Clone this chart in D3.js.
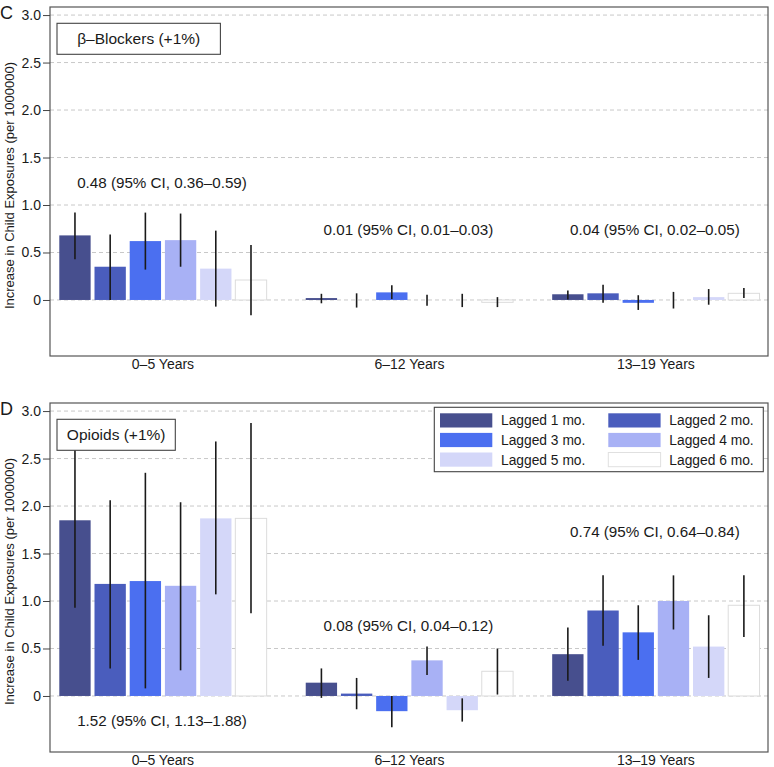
<!DOCTYPE html>
<html>
<head>
<meta charset="utf-8">
<script src="https://cdn.jsdelivr.net/npm/d3@7"></script>
<style>
  body { margin: 0; background: #fff; }
  svg { display: block; }
  text { font-family: "Liberation Sans", Arial, Helvetica, sans-serif; fill: #1a1a1a; }
</style>
</head>
<body>
<svg id="chart" width="774" height="767"></svg>
<script>
// ---------- DATA ----------
const ageGroups = ["0\u20135 Years", "6\u201312 Years", "13\u201319 Years"];
const lagLabels = ["Lagged 1 mo.", "Lagged 2 mo.", "Lagged 3 mo.", "Lagged 4 mo.", "Lagged 5 mo.", "Lagged 6 mo."];
const lagColors = ["#474f8e", "#4a5dbd", "#4b6ff0", "#a8b1f5", "#d4d7f9", "#ffffff"];
const yTicks = [0, 0.5, 1.0, 1.5, 2.0, 2.5, 3.0];

// Panel C: beta-blockers
const bbValues = [
  [0.68, 0.35, 0.62, 0.63, 0.33, 0.21],
  [0.02, 0.00, 0.08, 0.00, 0.00, -0.025],
  [0.06, 0.07, -0.03, 0.00, 0.03, 0.07]
];
const bbLower = [
  [0.43, 0.00, 0.32, 0.35, -0.07, -0.16],
  [-0.035, -0.08, 0.01, -0.06, -0.075, -0.075],
  [0.005, -0.03, -0.105, -0.09, -0.05, 0.02]
];
const bbUpper = [
  [0.92, 0.69, 0.92, 0.91, 0.73, 0.58],
  [0.065, 0.07, 0.155, 0.055, 0.065, 0.03],
  [0.10, 0.16, 0.05, 0.085, 0.115, 0.125]
];
const bbAnnotations = ["0.48 (95% CI, 0.36\u20130.59)", "0.01 (95% CI, 0.01\u20130.03)", "0.04 (95% CI, 0.02\u20130.05)"];

// Panel D: opioids
const opValues = [
  [1.85, 1.18, 1.21, 1.16, 1.87, 1.87],
  [0.14, 0.025, -0.16, 0.375, -0.15, 0.26],
  [0.44, 0.90, 0.67, 1.00, 0.52, 0.955]
];
const opLower = [
  [0.93, 0.29, 0.08, 0.27, 1.07, 0.87],
  [-0.02, -0.14, -0.33, 0.22, -0.27, 0.015],
  [0.16, 0.53, 0.38, 0.70, 0.19, 0.62]
];
const opUpper = [
  [2.78, 2.06, 2.35, 2.04, 2.68, 2.875],
  [0.29, 0.19, 0.00, 0.52, -0.025, 0.50],
  [0.72, 1.27, 0.955, 1.27, 0.85, 1.27]
];
const opAnnotations = ["1.52 (95% CI, 1.13\u20131.88)", "0.08 (95% CI, 0.04\u20130.12)", "0.74 (95% CI, 0.64\u20130.84)"];

// ---------- LAYOUT ----------
const svg = d3.select("#chart");
const plotLeft = 50, plotRight = 768;
const barsPerGroup = lagLabels.length;
const slotsPerGroup = barsPerGroup + 1;
const barFrac = 0.89;
const x = d3.scaleLinear().domain([-0.264, 20.13]).range([plotLeft, plotRight]);
const groupCenter = g => x(g * slotsPerGroup + (barsPerGroup - 1 + barFrac) / 2);

const panels = [
  { letter: "C", top: 7, bottom: 356, title: "\u03b2\u2013Blockers (+1%)", boxW: 163.4,
    values: bbValues, lower: bbLower, upper: bbUpper, annotations: bbAnnotations,
    annotY: [1.235, 0.737, 0.737], legend: false },
  { letter: "D", top: 403, bottom: 752, title: "Opioids (+1%)", boxW: 118.3,
    values: opValues, lower: opLower, upper: opUpper, annotations: opAnnotations,
    annotY: [-0.256, 0.743, 1.735], legend: true }
];

panels.forEach(p => {
  const g = svg.append("g");
  const y = d3.scaleLinear().domain([-0.59, 3.085]).range([p.bottom, p.top]);

  // grid
  g.append("g").selectAll("line").data(yTicks).join("line")
    .attr("x1", plotLeft).attr("x2", plotRight)
    .attr("y1", d => y(d)).attr("y2", d => y(d))
    .attr("stroke", "#c8c8c8").attr("stroke-width", 1).attr("stroke-dasharray", "4,3");

  // bars
  const flat = [];
  p.values.forEach((row, gi) => row.forEach((v, bi) => {
    flat.push({ gi, bi, v, lo: p.lower[gi][bi], hi: p.upper[gi][bi], pos: gi * slotsPerGroup + bi });
  }));
  g.append("g").selectAll("rect").data(flat).join("rect")
    .attr("x", d => x(d.pos))
    .attr("width", d => x(d.pos + barFrac) - x(d.pos))
    .attr("y", d => y(Math.max(0, d.v)))
    .attr("height", d => Math.abs(y(d.v) - y(0)))
    .attr("fill", d => lagColors[d.bi])
    .attr("stroke", d => d.bi === 5 ? "#dcdcdc" : "none")
    .attr("stroke-width", 1);

  // error bars
  g.append("g").selectAll("line").data(flat).join("line")
    .attr("x1", d => x(d.pos + barFrac / 2)).attr("x2", d => x(d.pos + barFrac / 2))
    .attr("y1", d => y(d.lo)).attr("y2", d => y(d.hi))
    .attr("stroke", "#1a1a1a").attr("stroke-width", 1.6);

  // plot frame
  g.append("rect").attr("x", plotLeft).attr("y", p.top)
    .attr("width", plotRight - plotLeft).attr("height", p.bottom - p.top)
    .attr("fill", "none").attr("stroke", "#555").attr("stroke-width", 1.2);

  // y axis
  const yAxis = d3.axisLeft(y).tickValues(yTicks)
    .tickFormat(d => d === 0 ? "0" : d.toFixed(1)).tickSize(7).tickPadding(2);
  const ax = g.append("g").attr("transform", `translate(${plotLeft},0)`).call(yAxis);
  ax.select(".domain").remove();
  ax.selectAll(".tick line").attr("stroke", "#444");
  ax.selectAll(".tick text").attr("font-size", 14).attr("fill", "#1a1a1a")
    .style("font-family", '"Liberation Sans", Arial, sans-serif');

  // y label
  g.append("text")
    .attr("transform", `translate(13.5,${(p.top + p.bottom) / 2 + 4}) rotate(-90)`)
    .attr("text-anchor", "middle").attr("font-size", 13)
    .text("Increase in Child Exposures (per 1000000)");

  // x category labels
  g.append("g").selectAll("text").data(ageGroups).join("text")
    .attr("x", (d, i) => groupCenter(i)).attr("y", p.bottom + 13)
    .attr("text-anchor", "middle").attr("font-size", 14).text(d => d);

  // annotations
  g.append("g").selectAll("text").data(p.annotations).join("text")
    .attr("x", (d, i) => groupCenter(i) - 1).attr("y", (d, i) => y(p.annotY[i]) + 5.5)
    .attr("text-anchor", "middle").attr("font-size", 15.2).text(d => d);

  // panel letter
  g.append("text").attr("x", 0).attr("y", p.top + 12).attr("font-size", 18).text(p.letter);

  // title box
  const bx = plotLeft + 7, by = p.top + 16.3, bh = 31;
  g.append("rect").attr("x", bx).attr("y", by).attr("width", p.boxW).attr("height", bh)
    .attr("fill", "#fff").attr("stroke", "#444").attr("stroke-width", 1.1);
  g.append("text").attr("font-size", 15.5).attr("text-anchor", "middle")
    .attr("x", bx + p.boxW / 2).attr("y", by + bh / 2 + 5.5).text(p.title);

  // legend
  if (p.legend) {
    const lx = 434.3, ly = p.top + 4.3, lw = 329, lh = 64.4;
    const lg = g.append("g");
    lg.append("rect").attr("x", lx).attr("y", ly).attr("width", lw).attr("height", lh)
      .attr("fill", "#fff").attr("stroke", "#444").attr("stroke-width", 1.1);
    const items = lg.selectAll("g.item").data(lagLabels).join("g").attr("class", "item")
      .attr("transform", (d, i) => `translate(${lx + 5.7 + (i % 2) * 168.3},${ly + 6 + Math.floor(i / 2) * 19.6})`);
    items.append("rect").attr("width", 52.3).attr("height", 14.2)
      .attr("fill", (d, i) => lagColors[i])
      .attr("stroke", (d, i) => i === 5 ? "#e0e0e0" : "none");
    items.append("text").attr("x", 61).attr("y", 12).attr("font-size", 13.8).text(d => d);
  }
});
</script>
</body>
</html>
